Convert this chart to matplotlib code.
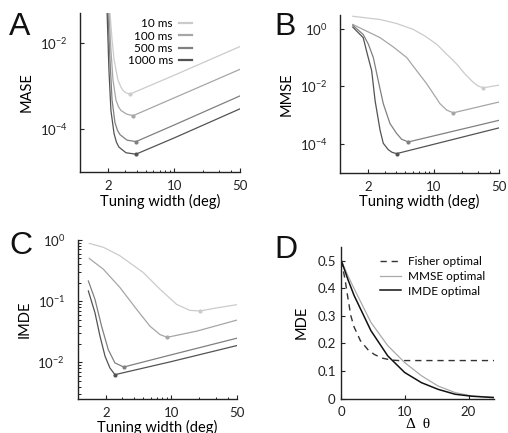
import math

import matplotlib
matplotlib.use("Agg")
import matplotlib.pyplot as plt
from matplotlib.lines import Line2D
from matplotlib.ticker import FixedLocator, FixedFormatter, NullFormatter

plt.rcParams["font.family"] = ["Lato", "DejaVu Sans"]
plt.rcParams["mathtext.default"] = "regular"

# ---- data ----
durations = ["10 ms", "100 ms", "500 ms", "1000 ms"]
shades = ["#cbcbcb", "#a6a6a6", "#808080", "#535353"]

# A: MASE vs tuning width
mase_x = [
    [2.08, 2.19, 2.30, 2.53, 2.70, 2.86, 3.10, 3.40, 10, 50],
    [2.03, 2.13, 2.24, 2.41, 2.56, 2.72, 3.16, 3.68, 10, 50],
    [1.98, 2.08, 2.19, 2.35, 2.50, 2.66, 3.16, 3.93, 10, 50],
    [1.94, 2.03, 2.13, 2.30, 2.44, 2.59, 3.08, 3.93, 10, 50],
]
mase_y = [
    [5.1e-2, 1.2e-2, 4.1e-3, 1.38e-3, 9.8e-4, 7.9e-4, 6.9e-4, 6.5e-4, 1.78e-3, 8.3e-3],
    [5.1e-2, 6.9e-3, 1.38e-3, 4.7e-4, 3.3e-4, 2.7e-4, 2.2e-4, 2.05e-4, 5.3e-4, 2.45e-3],
    [5.1e-2, 4.1e-3, 4.7e-4, 1.41e-4, 9.3e-5, 7.4e-5, 5.5e-5, 5.1e-5, 1.24e-4, 5.9e-4],
    [5.1e-2, 2.3e-3, 2.7e-4, 7.8e-5, 4.9e-5, 3.8e-5, 2.8e-5, 2.6e-5, 6.2e-5, 2.95e-4],
]
mase_min = [(3.40, 6.5e-4), (3.68, 2.05e-4), (3.93, 5.1e-5), (3.93, 2.6e-5)]

# B: MMSE vs tuning width
mmse_x = [
    [1.37, 2.68, 4.03, 6.07, 8.09, 10.8, 13.8, 17.7, 21.6, 26.5, 30.0, 34.0, 50],
    [1.37, 2.68, 3.71, 5.16, 6.59, 8.44, 11.7, 13.8, 16.2, 50],
    [1.37, 1.77, 2.01, 2.27, 2.56, 2.90, 3.42, 4.03, 4.56, 5.37, 50],
    [1.37, 1.77, 1.96, 2.18, 2.37, 2.68, 2.90, 3.28, 3.60, 4.03, 50],
]
mmse_y = [
    [2.71, 2.09, 1.52, 0.946, 0.557, 0.288, 0.131, 0.059, 0.027, 0.0138, 1.02e-2, 8.9e-3, 1.1e-2],
    [1.41, 0.49, 0.233, 0.1, 0.035, 0.0123, 2.5e-3, 1.5e-3, 1.2e-3, 2.85e-3],
    [1.32, 0.63, 0.29, 0.1, 0.016, 2.5e-3, 5.1e-4, 2.3e-4, 1.45e-4, 1.17e-4, 6.6e-4],
    [1.14, 0.49, 0.13, 0.035, 3.2e-3, 3.0e-4, 1.05e-4, 6.3e-5, 5.1e-5, 4.6e-5, 3.6e-4],
]
mmse_min = [(34.0, 8.9e-3), (16.2, 1.2e-3), (5.37, 1.17e-4), (4.03, 4.6e-5)]

# C: IMDE vs tuning width
imde_x = [
    [1.33, 1.88, 2.83, 5.02, 7.57, 11.4, 15.8, 20.3, 30.5, 50],
    [1.33, 1.88, 2.83, 4.27, 5.92, 7.57, 9.06, 18.7, 50],
    [1.30, 1.53, 1.80, 2.12, 2.50, 3.10, 10, 50],
    [1.30, 1.53, 1.73, 1.96, 2.21, 2.50, 10, 50],
]
imde_y = [
    [0.88, 0.76, 0.552, 0.294, 0.157, 0.0887, 0.0708, 0.0692, 0.0776, 0.0877],
    [0.50, 0.333, 0.167, 0.0734, 0.039, 0.0285, 0.0257, 0.0324, 0.049],
    [0.214, 0.107, 0.039, 0.0162, 0.0098, 0.0084, 0.0133, 0.0248],
    [0.147, 0.0646, 0.0269, 0.0126, 0.0081, 0.0063, 0.0103, 0.0188],
]
imde_min = [(20.3, 0.0692), (9.06, 0.0257), (3.10, 0.0084), (2.50, 0.0063)]

# D: MDE vs delta theta
fisher_x = [0, 0.6, 1.0, 1.5, 2.0, 3.0, 4.2, 5.2, 6.4, 7.8, 9.0, 24]
fisher_y = [0.5, 0.43, 0.37, 0.30, 0.26, 0.21, 0.177, 0.160, 0.147, 0.140, 0.138, 0.138]
mmse_opt_x = [0, 1.0, 2.02, 4.66, 7.3, 9.95, 12.6, 15.2, 17.9, 20.5, 24]
mmse_opt_y = [0.5, 0.447, 0.398, 0.276, 0.192, 0.131, 0.083, 0.046, 0.022, 0.010, 0.005]
imde_opt_x = [0, 1.06, 2.02, 4.66, 7.3, 9.95, 12.6, 15.2, 17.9, 20.5, 24]
imde_opt_y = [0.5, 0.43, 0.373, 0.246, 0.155, 0.095, 0.058, 0.034, 0.016, 0.009, 0.004]

W, H = 508, 433
fig = plt.figure(figsize=(W / 100, H / 100), dpi=100)


def box(left, top, right, bottom):
    return [left / W, 1 - bottom / H, (right - left) / W, (bottom - top) / H]


def style(ax):
    for s in ["top", "right"]:
        ax.spines[s].set_visible(False)
    for s in ["left", "bottom"]:
        ax.spines[s].set_linewidth(1.0)
        ax.spines[s].set_color("#222222")
    ax.tick_params(which="both", direction="in", colors="#222222",
                   labelcolor="#222222", labelsize=9.5)
    ax.tick_params(which="major", length=3, width=0.8)
    ax.tick_params(which="minor", length=1.8, width=0.7)


def log_panel(ax, xs, ys, mins, ylim, yticks, ylabel):
    for x, y, (mx, my), c in zip(xs, ys, mins, shades):
        ax.plot(x, y, color=c, lw=0.9)
        ax.plot([mx], [my], "o", color=c, ms=3, mec="none")
    ax.set_xscale("log")
    ax.set_yscale("log")
    ax.set_xlim(1, 50)
    ax.set_ylim(*ylim)
    style(ax)
    ax.xaxis.set_major_locator(FixedLocator([2, 10, 50]))
    ax.xaxis.set_major_formatter(FixedFormatter(["2", "10", "50"]))
    ax.xaxis.set_minor_locator(FixedLocator([1, 3, 4, 5, 6, 7, 8, 9, 20, 30, 40]))
    ax.xaxis.set_minor_formatter(NullFormatter())
    ax.yaxis.set_major_locator(FixedLocator(yticks))
    ax.yaxis.set_major_formatter(FixedFormatter(
        [r"$10^{%d}$" % round(math.log10(t)) for t in yticks]))
    ax.tick_params(axis="y", which="major", pad=9)
    ax.tick_params(axis="x", which="major", pad=6)
    ax.set_xlabel("Tuning width (deg)", fontsize=10.5, labelpad=1)
    ax.set_ylabel(ylabel, fontsize=10.5, labelpad=4)


# A
axA = fig.add_axes(box(80, 13, 240, 172))
log_panel(axA, mase_x, mase_y, mase_min, (1e-5, 5e-2), [1e-4, 1e-2], "MASE")
axA.yaxis.set_minor_locator(FixedLocator([]))
handles = [Line2D([], [], color=c, lw=1.6) for c in shades]
axA.legend(handles, durations, loc="upper right", bbox_to_anchor=(0.75, 1.02),
           markerfirst=False, frameon=False, fontsize=8.5, handlelength=1.1,
           handletextpad=0.5, labelspacing=0.12, borderpad=0.2)

# B
axB = fig.add_axes(box(340, 15, 499, 172.7))
log_panel(axB, mmse_x, mmse_y, mmse_min, (1e-5, 3.0), [1e-4, 1e-2, 1e0], "MMSE")
axB.yaxis.set_minor_locator(FixedLocator([]))

# C
axC = fig.add_axes(box(77.7, 240, 236.7, 398.7))
log_panel(axC, imde_x, imde_y, imde_min, (2.55e-3, 1.0), [1e-2, 1e-1, 1e0], "IMDE")
axC.yaxis.set_minor_locator(FixedLocator(
    [3e-3, 4e-3, 5e-3, 6e-3, 7e-3, 8e-3, 9e-3,
     2e-2, 3e-2, 4e-2, 5e-2, 6e-2, 7e-2, 8e-2, 9e-2,
     0.2, 0.3, 0.4, 0.5, 0.6, 0.7, 0.8, 0.9]))
axC.yaxis.set_minor_formatter(NullFormatter())

# D
axD = fig.add_axes(box(341.3, 246.7, 494, 398.7))
axD.plot(fisher_x, fisher_y, color="#333333", lw=1.0, dashes=(4.5, 3.5),
         label="Fisher optimal")
axD.plot(mmse_opt_x, mmse_opt_y, color="#aaaaaa", lw=0.9, label="MMSE optimal")
axD.plot(imde_opt_x, imde_opt_y, color="#111111", lw=1.1, label="IMDE optimal")
axD.set_xlim(0, 24)
axD.set_ylim(0, 0.55)
style(axD)
axD.set_xticks([0, 10, 20])
axD.set_xticklabels(["0", "10", "20"])
axD.set_yticks([0, 0.1, 0.2, 0.3, 0.4, 0.5])
axD.set_yticklabels(["0", "0.1", "0.2", "0.3", "0.4", "0.5"])
axD.tick_params(axis="y", pad=4)
axD.tick_params(axis="x", pad=5)
axD.set_xlabel("Δ  θ", fontsize=11, family=["Liberation Serif", "DejaVu Serif"],
               labelpad=0)
axD.set_ylabel("MDE", fontsize=10.5, labelpad=6)
axD.legend(loc="upper right", bbox_to_anchor=(1.0, 0.99), frameon=False,
           fontsize=8.5, handlelength=1.8, handletextpad=0.6,
           labelspacing=0.3, borderpad=0.2)

# panel letters
for letter, (px, py) in zip("ABCD", [(9, 12), (274, 12), (9, 231), (274, 235)]):
    fig.text(px / W, 1 - py / H, letter, fontsize=23, va="top", ha="left",
             family=["Liberation Sans", "DejaVu Sans"], color="#111111")

fig.savefig("out.png", dpi=100)
